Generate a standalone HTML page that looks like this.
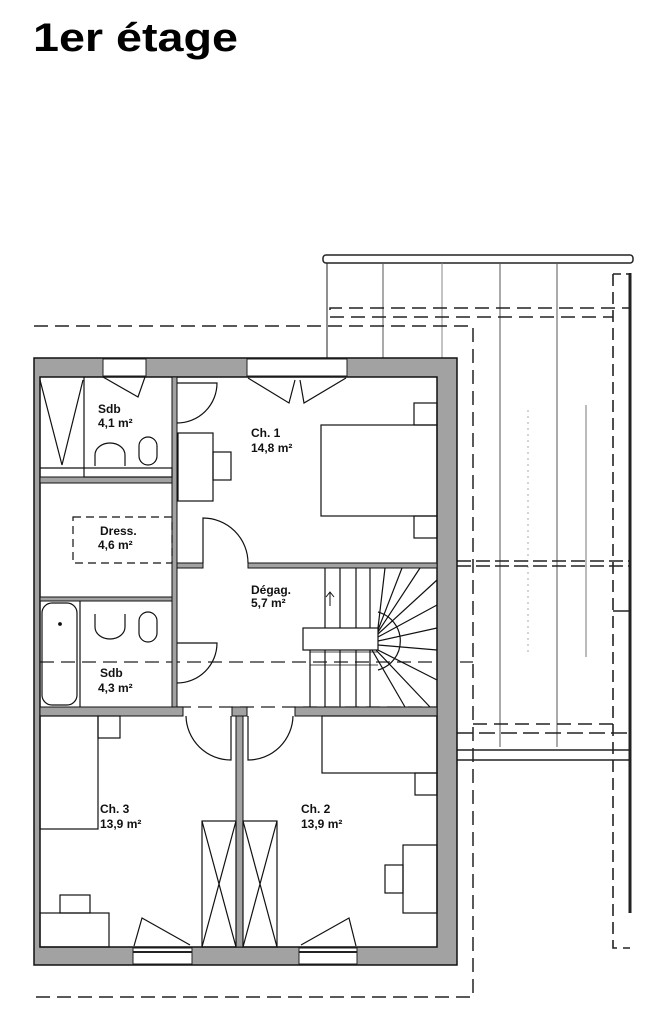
<!DOCTYPE html>
<html><head><meta charset="utf-8"><style>
html,body{margin:0;padding:0;background:#fff;}
svg{display:block;}
.t{font-family:"Liberation Sans",Arial,sans-serif;font-weight:bold;font-size:12px;fill:#111;}
</style></head><body>
<svg width="652" height="1026" viewBox="0 0 652 1026" xmlns="http://www.w3.org/2000/svg">
<text x="33" y="51" font-family="Liberation Sans, Arial, sans-serif" font-weight="bold" font-size="40" fill="#000" textLength="205" lengthAdjust="spacingAndGlyphs">1er étage</text>

<g stroke="#222" fill="none" stroke-width="1">
<rect x="323" y="255" width="310" height="8" rx="3" stroke-width="1.5" fill="#fff"/>
<line x1="327" y1="263" x2="327" y2="358"/>
<line x1="383" y1="263" x2="383" y2="358" stroke="#555"/>
<line x1="442" y1="263" x2="442" y2="358" stroke="#888"/>
<line x1="500" y1="263" x2="500" y2="747" stroke="#555"/>
<line x1="557" y1="263" x2="557" y2="747" stroke="#555"/>
<line x1="528" y1="410" x2="528" y2="655" stroke="#aaa" stroke-dasharray="2 4"/>
<line x1="586" y1="405" x2="586" y2="657" stroke="#777"/>
<line x1="630" y1="273" x2="630" y2="913" stroke-width="3"/>
<path d="M613 274 H630" stroke-dasharray="8 5" stroke-width="1.5"/>
<path d="M613 274 V948 H630" stroke-dasharray="12 6" stroke-width="1.6"/>
<path d="M613 611 H630" stroke-width="1.5"/>
<path d="M330 310 V308 H630" stroke-dasharray="14 7" stroke-width="1.5"/>
<path d="M330 317 H613" stroke-dasharray="14 7" stroke-width="1.5"/>
<path d="M34 326 H473 V997 H34" stroke-dasharray="14 7" stroke-width="1.5"/>
<path d="M457 561 H630 M457 566 H630" stroke-dasharray="14 5" stroke-width="1.5"/>
<path d="M473 724 H613" stroke-dasharray="14 7" stroke-width="1.5"/>
<path d="M457 733 H630" stroke-dasharray="16 6" stroke-width="1.5"/>
<path d="M457 750 H630 M457 760 H630" stroke-width="1.5"/>
<path d="M40 662 H473" stroke-dasharray="14 7" stroke-width="1.3"/>
<path d="M177 707 H437" stroke-dasharray="14 7" stroke-width="1.3"/>
</g>

<path d="M34 358 H457 V965 H34 Z M40 377 V947 H437 V377 Z" fill="#a2a2a2" fill-rule="evenodd" stroke="#111" stroke-width="1.5"/>
<rect x="103" y="359" width="43" height="17" fill="#fff" stroke="#222"/>
<rect x="247" y="359" width="100" height="17" fill="#fff" stroke="#222"/>
<rect x="133" y="948" width="59" height="16" fill="#fff" stroke="#222"/>
<rect x="299" y="948" width="58" height="16" fill="#fff" stroke="#222"/>
<line x1="133" y1="952" x2="192" y2="952" stroke="#222" stroke-width="2"/>
<line x1="299" y1="952" x2="357" y2="952" stroke="#222" stroke-width="2"/>

<g fill="#a2a2a2" stroke="#111" stroke-width="1">
<rect x="172" y="377" width="5" height="331"/>
<rect x="40" y="477" width="132" height="6"/>
<rect x="40" y="597" width="132" height="4"/>
<rect x="177" y="563" width="26" height="5"/>
<rect x="248" y="563" width="189" height="5"/>
<rect x="40" y="707" width="143" height="9"/>
<rect x="232" y="707" width="15" height="9"/>
<rect x="295" y="707" width="142" height="9"/>
<rect x="236" y="716" width="7" height="231"/>
</g>

<g stroke="#111" fill="none" stroke-width="1.2">
<line x1="84" y1="377" x2="84" y2="468"/>
<polyline points="40,380 62,465 83,380"/>
<line x1="40" y1="468" x2="84" y2="468"/>
<rect x="84" y="468" width="88" height="9"/>
<path d="M95 466 V455 A15 12 0 0 1 125 455 V466"/>
<rect x="139" y="437" width="18" height="28" rx="9"/>
<path d="M103 377 L138 397 L145 377"/>
<path d="M177 383 H217 A40 40 0 0 1 177 423"/>
<polyline points="248,378 289,403 295,380"/>
<polyline points="300,380 304,403 346,378"/>
<rect x="178" y="433" width="35" height="68"/>
<rect x="213" y="452" width="18" height="28"/>
<rect x="321" y="425" width="116" height="91"/>
<rect x="414" y="403" width="23" height="22"/>
<rect x="414" y="516" width="23" height="22"/>
<rect x="73" y="517" width="99" height="46" stroke-dasharray="8 5"/>
<path d="M203 563 V518 A45 45 0 0 1 248 563"/>
<rect x="303" y="628" width="75" height="22"/>
<path d="M310 650 V707 M325 650 V707 M340 650 V707 M356 650 V707 M370 650 V707"/>
<path d="M325 568 V628 M340 568 V628 M356 568 V628 M370 568 V628"/>
<path d="M378 612 A30 30 0 0 1 378 670"/>
<path d="M378 634 L437 580 M378 637 L437 605 M378 641 L437 628 M378 645 L437 650 M378 650 L437 680 M376 650 L430 707 M372 650 L405 707 M385 568 L378 628 M402 568 L378 630 M420 568 L378 632"/>
<path d="M310 652 H378 M310 665 H378" stroke-width="0.8"/>
<path d="M330 606 V592 M326 597 L330 592 L334 597" stroke-width="1"/>
<rect x="42" y="603" width="35" height="102" rx="10"/>
<line x1="80" y1="601" x2="80" y2="707"/>
<path d="M95 614 V627 A15 12 0 0 0 125 627 V614"/>
<rect x="139" y="612" width="18" height="30" rx="9"/>
<circle cx="60" cy="624" r="1.3" fill="#111"/>
<path d="M177 643 H217 A40 40 0 0 1 177 683"/>
<path d="M231 716 V760 A45 45 0 0 1 186 716"/>
<path d="M248 716 V760 A45 45 0 0 0 293 716"/>
<rect x="40" y="716" width="58" height="113"/>
<rect x="98" y="716" width="22" height="22"/>
<rect x="40" y="913" width="69" height="34"/>
<rect x="60" y="895" width="30" height="18"/>
<rect x="202" y="821" width="34" height="126"/>
<path d="M202 821 L236 947 M236 821 L202 947"/>
<rect x="243" y="821" width="34" height="126"/>
<path d="M243 821 L277 947 M277 821 L243 947"/>
<rect x="322" y="716" width="115" height="57"/>
<rect x="415" y="773" width="22" height="22"/>
<rect x="403" y="845" width="34" height="68"/>
<rect x="385" y="865" width="18" height="28"/>
<path d="M134 946 L142 918 L190 945"/>
<path d="M301 945 L349 918 L356 946"/>
</g>

<text class="t" x="98" y="413">Sdb</text>
<text class="t" x="98" y="427">4,1 m²</text>
<text class="t" x="251" y="437">Ch. 1</text>
<text class="t" x="251" y="452">14,8 m²</text>
<text class="t" x="100" y="535">Dress.</text>
<text class="t" x="98" y="549">4,6 m²</text>
<text class="t" x="251" y="594">Dégag.</text>
<text class="t" x="251" y="607">5,7 m²</text>
<text class="t" x="100" y="677">Sdb</text>
<text class="t" x="98" y="692">4,3 m²</text>
<text class="t" x="100" y="813">Ch. 3</text>
<text class="t" x="100" y="828">13,9 m²</text>
<text class="t" x="301" y="813">Ch. 2</text>
<text class="t" x="301" y="828">13,9 m²</text>
</svg>
</body></html>
